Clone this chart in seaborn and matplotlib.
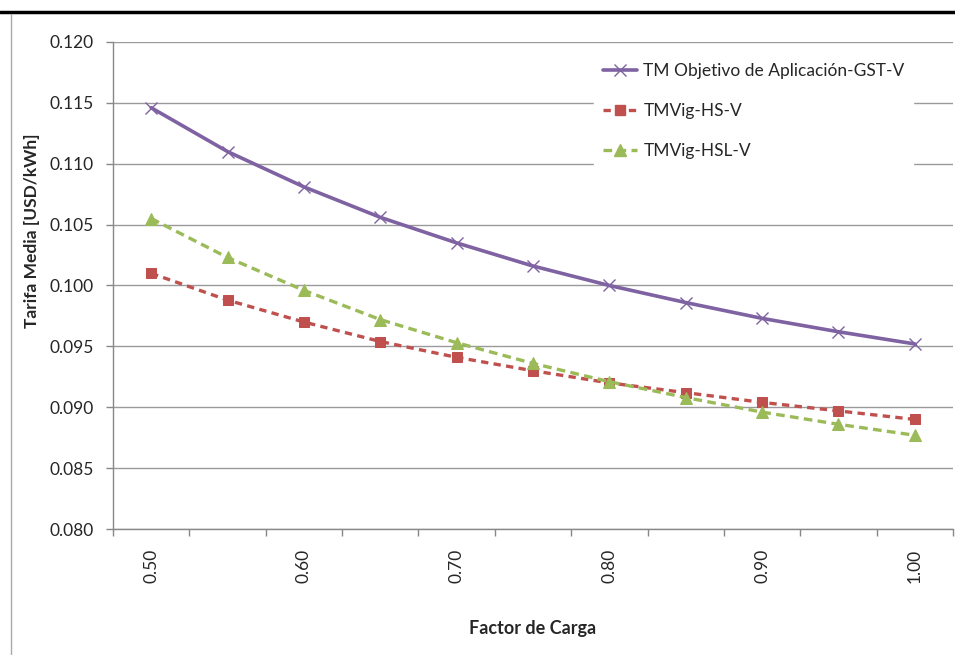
import matplotlib
matplotlib.use("Agg")
import matplotlib.pyplot as plt
import matplotlib.lines as mlines
import seaborn as sns
import pandas as pd

factor = [0.50, 0.55, 0.60, 0.65, 0.70, 0.75, 0.80, 0.85, 0.90, 0.95, 1.00]
gst_v = [0.1146, 0.1110, 0.1081, 0.1056, 0.1035, 0.1016, 0.1000, 0.0986, 0.0973, 0.0962, 0.0952]
hs_v = [0.1010, 0.0988, 0.0970, 0.0954, 0.0941, 0.0930, 0.0920, 0.0912, 0.0904, 0.0897, 0.0890]
hsl_v = [0.1055, 0.1023, 0.0996, 0.0972, 0.0953, 0.0936, 0.0921, 0.0908, 0.0896, 0.0886, 0.0877]
names = ["TM Objetivo de Aplicación-GST-V", "TMVig-HS-V", "TMVig-HSL-V"]
xtick_vals = [0.50, 0.60, 0.70, 0.80, 0.90, 1.00]
xtick_labels = ["0.50", "0.60", "0.70", "0.80", "0.90", "1.00"]
ytick_vals = [0.080, 0.085, 0.090, 0.095, 0.100, 0.105, 0.110, 0.115, 0.120]

sns.set_theme(style="white")
plt.rcParams['font.family'] = ['Lato', 'DejaVu Sans']

fig = plt.figure(figsize=(9.55, 6.55), dpi=100)
ax = fig.add_axes([113/955, 1-529/655, 840/955, 487/655])

df = pd.DataFrame({"x": factor, "gst": gst_v, "hs": hs_v, "hsl": hsl_v})

purple = "#7F62A1"
red = "#C0504D"
green = "#9BBB59"

sns.lineplot(data=df, x="x", y="gst", ax=ax, color=purple, lw=2.6,
             marker="x", markersize=8, markeredgewidth=1.0, markeredgecolor=purple)
sns.lineplot(data=df, x="x", y="hs", ax=ax, color=red, lw=2.4, linestyle=(0, (2.2, 1.6)),
             marker="s", markersize=7.5, markeredgecolor=red)
sns.lineplot(data=df, x="x", y="hsl", ax=ax, color=green, lw=2.4, linestyle=(0, (2.6, 1.6)),
             marker="^", markersize=8.5, markeredgecolor=green)

ax.set_xlim(0.475, 1.025)
ax.set_ylim(0.080, 0.120)
ax.set_yticks(ytick_vals)
ax.set_yticklabels([f"{v:.3f}" for v in ytick_vals], fontsize=12.5)
ax.set_xticks(xtick_vals)
ax.set_xticklabels(xtick_labels, rotation=90, fontsize=12.5)
ax.set_xticks([0.475 + 0.05*i for i in range(12)], minor=True)
ax.tick_params(axis="x", which="major", length=0, pad=14)
ax.tick_params(axis="x", which="minor", length=5, width=1, color="#888888", direction="out", bottom=True)
ax.tick_params(axis="y", which="major", length=5, width=1, color="#888888", direction="out", left=True, pad=9)
ax.yaxis.grid(True, color="#9a9a9a", lw=1)
ax.xaxis.grid(False)
for s in ["top", "right"]:
    ax.spines[s].set_visible(False)
for s in ["left", "bottom"]:
    ax.spines[s].set_color("#888888")
    ax.spines[s].set_linewidth(1)

ax.set_xlabel("Factor de Carga", fontsize=13, fontweight="bold", labelpad=27)
ax.set_ylabel("Tarifa Media [USD/kWh]", fontsize=12.5, fontweight="bold")
ax.yaxis.set_label_coords((40-113)/840, 1-(231-42)/487)

handles = [
    mlines.Line2D([], [], color=purple, lw=2.6, marker="x", markersize=8, markeredgewidth=1.0),
    mlines.Line2D([], [], color=red, lw=2.4, linestyle=(0, (2.2, 1.6)), marker="s", markersize=7.5),
    mlines.Line2D([], [], color=green, lw=2.4, linestyle=(0, (2.6, 1.6)), marker="^", markersize=8.5),
]
leg = ax.legend(handles, names, loc="upper left", bbox_to_anchor=((594-113)/840, 1-(54-42)/487),
                frameon=True, fontsize=12.5, labelspacing=1.4, handlelength=2.0,
                handletextpad=0.35, borderaxespad=0, borderpad=0.5)
leg.get_frame().set_facecolor("white")
leg.get_frame().set_edgecolor("white")
leg.get_frame().set_alpha(1)

fig.add_artist(mlines.Line2D([0, 1], [1-12/655, 1-12/655], color="black", lw=2.5, transform=fig.transFigure))
fig.add_artist(mlines.Line2D([11/955, 11/955], [0, 1-14/655], color="#aaaaaa", lw=1, transform=fig.transFigure))

fig.savefig("out.png", dpi=100)
